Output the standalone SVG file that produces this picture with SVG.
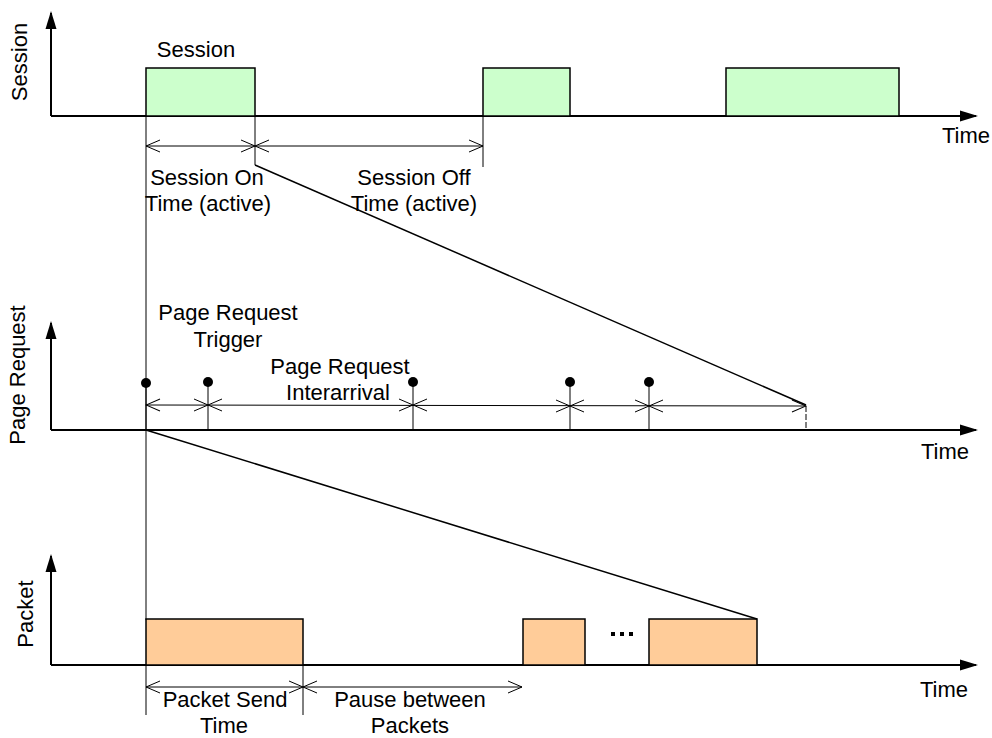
<svg xmlns="http://www.w3.org/2000/svg" width="992" height="738" viewBox="0 0 992 738">
  <style>
    text { font-family: "Liberation Sans", Arial, sans-serif; font-size: 22px; fill: #000; }
    .mid { text-anchor: middle; }
    .axis { stroke: #000; stroke-width: 2; fill: none; }
    .session { fill: #ccffcc; stroke: #000; stroke-width: 1.5; }
    .packet { fill: #ffcc99; stroke: #000; stroke-width: 1.5; }
    .dim { stroke: #000; stroke-width: 1; fill: none; }
    .link { stroke: #000; stroke-width: 1.5; fill: none; }
  </style>
  <defs>
    <marker id="axisHead" markerUnits="userSpaceOnUse" markerWidth="18" markerHeight="14" viewBox="0 0 18 14" refX="16" refY="7" orient="auto">
      <path d="M0,1.5 L18,7 L0,12.5 z" fill="#000"/>
    </marker>
    <marker id="openHead" markerUnits="userSpaceOnUse" markerWidth="16" markerHeight="14" viewBox="0 0 16 14" refX="15" refY="7" orient="auto-start-reverse">
      <path d="M1,1 L15,7 L1,13" fill="none" stroke="#000" stroke-width="1"/>
    </marker>
  </defs>

  <!-- Session panel -->
  <g id="session-panel">
    <path class="axis" d="M51,116 L51,13" marker-end="url(#axisHead)"/>
    <path class="axis" d="M51,116 L976,116" marker-end="url(#axisHead)"/>
    <text transform="translate(27,62) rotate(-90)" class="mid">Session</text>
    <text x="966" y="143" class="mid">Time</text>
  </g>
  <g id="session-1">
    <rect class="session" x="146" y="68" width="109" height="48"/>
    <text x="196" y="57" class="mid">Session</text>
  </g>
  <g id="session-2">
    <rect class="session" x="483" y="68" width="87" height="48"/>
  </g>
  <g id="session-3">
    <rect class="session" x="726" y="68" width="173" height="48"/>
  </g>
  <g id="session-on-time">
    <text x="207" y="185" class="mid">Session On</text>
    <text x="208" y="211" class="mid">Time (active)</text>
  </g>
  <g id="session-off-time">
    <text x="414" y="185" class="mid">Session Off</text>
    <text x="414" y="211" class="mid">Time (active)</text>
  </g>

  <!-- Page request panel -->
  <g id="page-panel">
    <path class="axis" d="M51,430 L51,323" marker-end="url(#axisHead)"/>
    <path class="axis" d="M51,430 L976,430" marker-end="url(#axisHead)"/>
    <text transform="translate(25,375) rotate(-90)" class="mid">Page Request</text>
    <text x="945" y="459" class="mid">Time</text>
  </g>
  <g id="page-trigger">
    <text x="228" y="320" class="mid">Page Request</text>
    <text x="228" y="347" class="mid">Trigger</text>
  </g>
  <g id="page-interarrival">
    <text x="340" y="374" class="mid">Page Request</text>
    <text x="338" y="400" class="mid">Interarrival</text>
  </g>
  <g id="page-requests">
    <line class="dim" x1="146" y1="383" x2="146" y2="430"/>
    <circle cx="146" cy="383" r="5" fill="#000"/>
    <line class="dim" x1="208" y1="382" x2="208" y2="430"/>
    <circle cx="208" cy="382" r="5" fill="#000"/>
    <line class="dim" x1="413" y1="382" x2="413" y2="430"/>
    <circle cx="413" cy="382" r="5" fill="#000"/>
    <line class="dim" x1="570" y1="382" x2="570" y2="430"/>
    <circle cx="570" cy="382" r="5" fill="#000"/>
    <line class="dim" x1="649" y1="382" x2="649" y2="430"/>
    <circle cx="649" cy="382" r="5" fill="#000"/>
  </g>

  <!-- Packet panel -->
  <g id="packet-panel">
    <path class="axis" d="M51,665 L51,556" marker-end="url(#axisHead)"/>
    <path class="axis" d="M51,665 L976,665" marker-end="url(#axisHead)"/>
    <text transform="translate(33,614) rotate(-90)" class="mid">Packet</text>
    <text x="944" y="697" class="mid">Time</text>
  </g>
  <g id="packet-1">
    <rect class="packet" x="146" y="619" width="157" height="46"/>
  </g>
  <g id="packet-2">
    <rect class="packet" x="523" y="619" width="62" height="46"/>
  </g>
  <g id="packet-ellipsis">
    <rect x="611" y="632" width="4" height="4" fill="#000"/>
    <rect x="620" y="632" width="4" height="4" fill="#000"/>
    <rect x="629" y="632" width="4" height="4" fill="#000"/>
  </g>
  <g id="packet-3">
    <rect class="packet" x="649" y="619" width="108" height="46"/>
  </g>
  <g id="packet-send-time">
    <text x="225" y="707" class="mid">Packet Send</text>
    <text x="224" y="733" class="mid">Time</text>
  </g>
  <g id="packet-pause">
    <text x="410" y="707" class="mid">Pause between</text>
    <text x="410" y="733" class="mid">Packets</text>
  </g>

  <!-- Connectors: extension lines, dimension lines and zoom lines -->
  <g id="connectors">
    <!-- session extension lines -->
    <line class="dim" x1="146" y1="116" x2="146" y2="620"/>
    <line class="dim" x1="255" y1="116" x2="255" y2="165"/>
    <line class="dim" x1="483" y1="116" x2="483" y2="167"/>
    <!-- session dimension lines -->
    <line class="dim" x1="146" y1="146" x2="255" y2="146" marker-start="url(#openHead)" marker-end="url(#openHead)"/>
    <line class="dim" x1="255" y1="146" x2="483" y2="146" marker-start="url(#openHead)" marker-end="url(#openHead)"/>
    <!-- page request dimension line -->
    <line class="dim" x1="146" y1="405" x2="806" y2="406" marker-start="url(#openHead)" marker-end="url(#openHead)"/>
    <path class="dim" d="M194,399 L222,411 M194,411 L222,399"/>
    <path class="dim" d="M399,399 L427,411 M399,411 L427,399"/>
    <path class="dim" d="M556,400 L584,412 M556,412 L584,400"/>
    <path class="dim" d="M635,400 L663,412 M635,412 L663,400"/>
    <line class="dim" x1="806" y1="406" x2="806" y2="430" stroke-dasharray="6,2"/>
    <!-- packet extension and dimension lines -->
    <line class="dim" x1="146" y1="665" x2="146" y2="715"/>
    <line class="dim" x1="303" y1="665" x2="303" y2="715"/>
    <line class="dim" x1="146" y1="687" x2="303" y2="687" marker-start="url(#openHead)" marker-end="url(#openHead)"/>
    <line class="dim" x1="303" y1="687" x2="522" y2="687" marker-start="url(#openHead)" marker-end="url(#openHead)"/>
    <!-- zoom lines between panels -->
    <line class="link" x1="255" y1="165" x2="806" y2="405"/>
    <line class="link" x1="146" y1="430" x2="757" y2="619"/>
  </g>
</svg>
